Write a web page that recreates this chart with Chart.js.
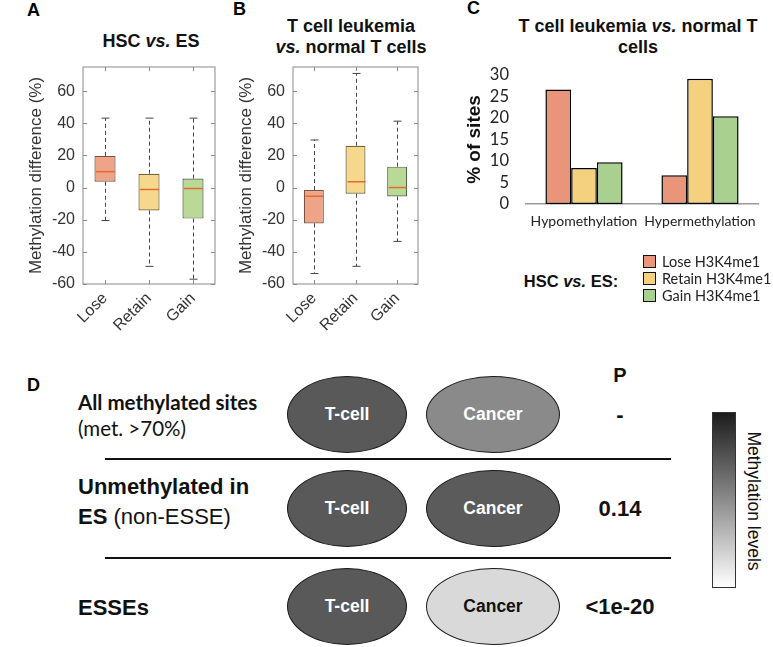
<!DOCTYPE html>
<html>
<head>
<meta charset="utf-8">
<script src="https://cdn.jsdelivr.net/npm/chart.js@4.4.1/dist/chart.umd.min.js"></script>
<style>
  body { margin: 0; background: #fff; }
  #page { position: relative; width: 773px; height: 647px; overflow: hidden; font-family: "Liberation Sans", Arial, sans-serif; color: #111; }
  .abs { position: absolute; white-space: nowrap; }
  .c { transform: translate(-50%, -50%); }
  .letter { font-weight: bold; font-size: 18px; color: #000; }
  .ttl { font-weight: bold; font-size: 18px; color: #111; text-align: center; line-height: 21px; }
  canvas { position: absolute; }
  .ell { position: absolute; border-radius: 50%; border: 1.5px solid #1a1a1a; box-sizing: border-box;
         display: flex; align-items: center; justify-content: center; font-weight: bold; font-size: 17.5px; }
  .lg { position: absolute; white-space: nowrap; font-family: Lato, sans-serif; font-size: 14.5px; color: #222; display: flex; align-items: center; }
  .lg span.sw { display: inline-block; width: 11px; height: 11px; border: 1px solid #111; margin-right: 6px; }
</style>
</head>
<body>
<div id="page">
  <div class="abs letter" style="left:27px;top:0px">A</div>
  <div class="abs letter" style="left:233px;top:-1px">B</div>
  <div class="abs letter" style="left:467px;top:-2px">C</div>
  <div class="abs letter" style="left:27px;top:375px">D</div>

  <div class="abs ttl c" style="left:151px;top:41px">HSC <i>vs.</i> ES</div>
  <div class="abs ttl c" style="left:351px;top:37px">T cell leukemia<br><i>vs.</i> normal T cells</div>
  <div class="abs ttl c" style="left:638px;top:37px">T cell leukemia <i>vs.</i> normal T<br>cells</div>

  <canvas id="chartA" width="228" height="295" style="left:0px;top:55px"></canvas>
  <canvas id="chartB" width="228" height="295" style="left:210px;top:55px"></canvas>
  <canvas id="chartC" width="343" height="175" style="left:430px;top:60px"></canvas>

  <div class="abs c" style="left:571px;top:281px;font-weight:bold;font-size:16.5px">HSC <i>vs.</i> ES:</div>
  <div id="legend"></div>

  <div id="panelD"></div>
</div>

<script>
// ---- data ----
const boxCats = ['Lose', 'Retain', 'Gain'];
const boxTicks = [-60, -40, -20, 0, 20, 40, 60];

// A: HSC vs. ES
const hscMin = [-20.5, -49, -57];
const hscQ1  = [3.6, -14.3, -19.3];
const hscMed = [9.9, -1.2, -0.6];
const hscQ3  = [19.7, 8.6, 5.6];
const hscMax = [43.2, 43.2, 43.2];

// B: T cell leukemia vs. normal T cells
const tclMin = [-53.5, -49, -33.5];
const tclQ1  = [-22.3, -3.8, -5.5];
const tclMed = [-5.4, 3.6, 0];
const tclQ3  = [-1.5, 26, 13];
const tclMax = [29.6, 71, 41.3];

// C: % of sites
const barCats = ['Hypomethylation', 'Hypermethylation'];
const seriesNames = ['Lose H3K4me1', 'Retain H3K4me1', 'Gain H3K4me1'];
const loseSites   = [26.6, 6.7];
const retainSites = [8.4, 29.1];
const gainSites   = [9.7, 20.4];
const barTicks = [0, 5, 10, 15, 20, 25, 30];

// D
const rowLabels = ['All methylated sites', 'Unmethylated in ES', 'ESSEs'];
const cancerShade = ['#8a8a8a', '#5b5b5b', '#d9d9d9'];
const pValues = ['-', '0.14', '<1e-20'];

const boxFill = ['#eda487', '#f6d88d', '#bad896'];
const boxEdge = ['#7d5040', '#73623a', '#4f6140'];
const barFill = ['#e8957a', '#f4d17f', '#a9d08e'];

// tick label padding must not push the chart area down
function noPad(s) { s.paddingTop = 0; s.paddingBottom = 0; s.paddingLeft = 0; s.paddingRight = 0; }

// ---- plugins ----
const framePlugin = {
  id: 'frame',
  afterDraw(chart) {
    const { ctx, chartArea: a, scales } = chart;
    ctx.save();
    ctx.strokeStyle = '#8a8a8a';
    ctx.lineWidth = 1;
    ctx.strokeRect(a.left, a.top, a.right - a.left, a.bottom - a.top);
    ctx.beginPath();
    scales.y.ticks.forEach(t => {
      const y = Math.round(scales.y.getPixelForValue(t.value)) + 0.5;
      ctx.moveTo(a.left, y); ctx.lineTo(a.left + 4, y);
      ctx.moveTo(a.right, y); ctx.lineTo(a.right - 4, y);
    });
    boxCats.forEach((c, i) => {
      const x = Math.round(scales.x.getPixelForValue(i)) + 0.5;
      ctx.moveTo(x, a.top); ctx.lineTo(x, a.top + 4);
      ctx.moveTo(x, a.bottom); ctx.lineTo(x, a.bottom - 4);
    });
    ctx.stroke();
    ctx.restore();
  }
};

function whiskerPlugin(mins, meds, maxs, q1s, q3s) {
  return {
    id: 'whiskers',
    afterDatasetsDraw(chart) {
      const { ctx, scales } = chart;
      const meta = chart.getDatasetMeta(0);
      ctx.save();
      boxCats.forEach((c, i) => {
        const x = Math.round(scales.x.getPixelForValue(i)) + 0.5;
        const w = meta.data[i].width / 2;
        const y = v => scales.y.getPixelForValue(v);
        ctx.strokeStyle = '#444';
        ctx.lineWidth = 1;
        ctx.setLineDash([4, 3]);
        ctx.beginPath();
        ctx.moveTo(x, y(q3s[i])); ctx.lineTo(x, y(maxs[i]));
        ctx.moveTo(x, y(q1s[i])); ctx.lineTo(x, y(mins[i]));
        ctx.stroke();
        ctx.setLineDash([]);
        ctx.beginPath();
        ctx.moveTo(x - 4, y(maxs[i])); ctx.lineTo(x + 4, y(maxs[i]));
        ctx.moveTo(x - 4, y(mins[i])); ctx.lineTo(x + 4, y(mins[i]));
        ctx.stroke();
        ctx.strokeStyle = '#e46a35';
        ctx.lineWidth = 1.5;
        ctx.beginPath();
        ctx.moveTo(x - w + 1, y(meds[i])); ctx.lineTo(x + w - 1, y(meds[i]));
        ctx.stroke();
      });
      ctx.restore();
    }
  };
}

function makeBoxChart(id, mins, q1s, meds, q3s, maxs, padRight) {
  const ctx = document.getElementById(id).getContext('2d');
  return new Chart(ctx, {
    type: 'bar',
    data: {
      labels: boxCats,
      datasets: [{
        data: boxCats.map((c, i) => [q1s[i], q3s[i]]),
        backgroundColor: boxFill,
        borderColor: boxEdge,
        borderWidth: 1.2,
        borderSkipped: false,
        barPercentage: 0.48,
        categoryPercentage: 1
      }]
    },
    options: {
      responsive: false,
      animation: false,
      layout: { padding: { top: 12, right: padRight, left: 0, bottom: 0 } },
      plugins: { legend: { display: false }, tooltip: { enabled: false } },
      scales: {
        x: {
          grid: { display: false, drawTicks: false },
          border: { display: false },
          ticks: { color: '#333', font: { family: 'Liberation Sans', size: 16 }, maxRotation: 45, minRotation: 45, padding: 5, autoSkip: false },
          afterFit: s => { s.height = 66; noPad(s); }
        },
        y: {
          min: -60, max: 75,
          afterBuildTicks: s => { s.ticks = boxTicks.map(v => ({ value: v })); },
          grid: { display: false, drawTicks: false },
          border: { display: false },
          ticks: { color: '#333', font: { family: 'Liberation Sans', size: 16 }, padding: 8, autoSkip: false },
          title: { display: true, text: 'Methylation difference (%)', color: '#333', font: { family: 'Liberation Sans', size: 17 }, padding: { top: 26, bottom: 0 } },
          afterFit: s => { s.width = 83; noPad(s); }
        }
      }
    },
    plugins: [framePlugin, whiskerPlugin(mins, meds, maxs, q1s, q3s)]
  });
}

makeBoxChart('chartA', hscMin, hscQ1, hscMed, hscQ3, hscMax, 13);
makeBoxChart('chartB', tclMin, tclQ1, tclMed, tclQ3, tclMax, 20);

// ---- C: bars ----
new Chart(document.getElementById('chartC').getContext('2d'), {
  type: 'bar',
  data: {
    labels: barCats,
    datasets: [loseSites, retainSites, gainSites].map((d, i) => ({
      label: seriesNames[i],
      data: d,
      backgroundColor: barFill[i],
      borderColor: '#000',
      borderWidth: 1.5,
      borderSkipped: false,
      barPercentage: 1,
      categoryPercentage: 0.665
    }))
  },
  options: {
    responsive: false,
    animation: false,
    layout: { padding: { top: 15, right: 15, left: 0, bottom: 0 } },
    plugins: { legend: { display: false }, tooltip: { enabled: false } },
    scales: {
      x: {
        grid: { display: false, drawTicks: false },
        border: { display: true, color: '#9a9a9a', width: 1.5 },
        ticks: { color: '#222', font: { family: 'Lato', size: 14 }, padding: 9, autoSkip: false, maxRotation: 0 },
        afterFit: s => { s.height = 31; noPad(s); }
      },
      y: {
        min: 0, max: 30,
        afterBuildTicks: s => { s.ticks = barTicks.map(v => ({ value: v })); },
        grid: { display: false, drawTicks: false },
        border: { display: false },
        ticks: { color: '#222', font: { family: 'Lato', size: 16.5 }, padding: 17, autoSkip: false },
        title: { display: true, text: '% of sites', color: '#111', font: { family: 'Liberation Sans', size: 19, weight: 'bold' }, padding: { top: 33, bottom: 0 } },
        afterFit: s => { s.width = 96; noPad(s); }
      }
    }
  }
});

// legend for C
const legend = document.getElementById('legend');
seriesNames.forEach((n, i) => {
  const d = document.createElement('div');
  d.className = 'lg';
  d.style.left = '643px';
  d.style.top = (253 + i * 17) + 'px';
  d.innerHTML = '<span class="sw" style="background:' + barFill[i] + '"></span>' + n;
  legend.appendChild(d);
});

// ---- D: diagram ----
const D = document.getElementById('panelD');
function add(html) { D.insertAdjacentHTML('beforeend', html); }
add('<div class="abs" style="left:78px;top:390px;font-family:Lato;font-weight:bold;font-size:20.5px">' + rowLabels[0] + '</div>');
add('<div class="abs" style="left:78px;top:416px;font-family:Lato;font-size:20.5px">(met. &gt;70%)</div>');
add('<div class="abs" style="left:78px;top:474px;font-weight:bold;font-size:22px">' + rowLabels[1].replace(' ES', '') + '</div>');
add('<div class="abs" style="left:78px;top:504px;font-size:22px"><b>ES</b> (non-ESSE)</div>');
add('<div class="abs" style="left:78px;top:595px;font-weight:bold;font-size:22px">' + rowLabels[2] + '</div>');
const rowTop = [376, 470, 568];
rowTop.forEach((t, i) => {
  add('<div class="ell" style="left:287px;top:' + t + 'px;width:120px;height:77px;background:#595959;color:#fff">T-cell</div>');
  add('<div class="ell" style="left:426px;top:' + t + 'px;width:134px;height:77px;background:' + cancerShade[i] + ';color:' + (i === 2 ? '#111' : '#fff') + '">Cancer</div>');
  add('<div class="abs c" style="left:620px;top:' + (t + 39) + 'px;font-weight:bold;font-size:22px">' + pValues[i] + '</div>');
});
add('<div class="abs c" style="left:620px;top:375px;font-weight:bold;font-size:20px">P</div>');
add('<div class="abs" style="left:105px;top:458px;width:566px;height:1.5px;background:#111"></div>');
add('<div class="abs" style="left:105px;top:557px;width:566px;height:1.5px;background:#111"></div>');
add('<div class="abs" style="left:712px;top:412px;width:24px;height:176px;box-sizing:border-box;border:1px solid #333;background:linear-gradient(#1c1c1c,#808080 45%,#fff)"></div>');
add('<div class="abs c" style="left:753px;top:501px;font-size:17.5px;color:#111;transform:translate(-50%,-50%) rotate(90deg)">Methylation levels</div>');
</script>
</body>
</html>
